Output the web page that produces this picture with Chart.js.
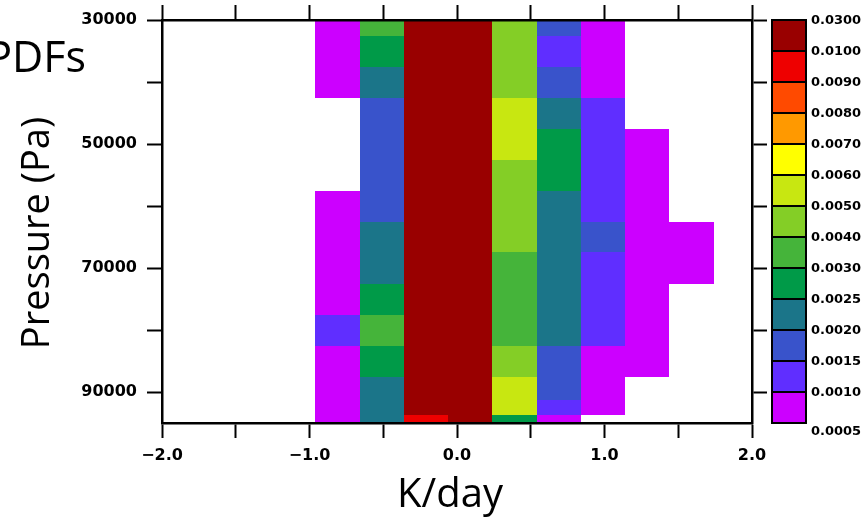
<!DOCTYPE html>
<html><head><meta charset="utf-8">
<script src="https://cdn.jsdelivr.net/npm/chart.js@4"></script>
<style>html,body{margin:0;padding:0;background:#fff;overflow:hidden}canvas{display:block}</style>
</head><body>
<canvas id="c" width="866" height="519"></canvas>
<script>
// ---- data ----
const heatingRateCenters = [-0.81, -0.51, -0.21, 0.09, 0.39, 0.69, 0.99, 1.29, 1.59];
const binWidth = 0.3;
const pressureLevels = [30000, 35000, 40000, 45000, 50000, 55000, 60000, 65000, 70000, 75000, 80000, 85000, 90000, 92500, 95000];
const pdfRows = [
  [0.0007, 0.0035, 0.0210, 0.0200, 0.0045, 0.0017, 0.0007, null, null],
  [0.0007, 0.0027, 0.0220, 0.0210, 0.0045, 0.0012, 0.0007, null, null],
  [0.0007, 0.0022, 0.0220, 0.0210, 0.0045, 0.0017, 0.0007, null, null],
  [null,   0.0017, 0.0230, 0.0220, 0.0055, 0.0022, 0.0012, null, null],
  [null,   0.0017, 0.0230, 0.0220, 0.0055, 0.0027, 0.0012, 0.0007, null],
  [null,   0.0017, 0.0230, 0.0220, 0.0045, 0.0027, 0.0012, 0.0007, null],
  [0.0007, 0.0017, 0.0220, 0.0220, 0.0045, 0.0022, 0.0012, 0.0007, null],
  [0.0007, 0.0022, 0.0220, 0.0210, 0.0045, 0.0022, 0.0017, 0.0007, 0.0007],
  [0.0007, 0.0022, 0.0210, 0.0200, 0.0035, 0.0022, 0.0012, 0.0007, 0.0007],
  [0.0007, 0.0027, 0.0200, 0.0200, 0.0035, 0.0022, 0.0012, 0.0007, null],
  [0.0012, 0.0035, 0.0190, 0.0190, 0.0035, 0.0022, 0.0012, 0.0007, null],
  [0.0007, 0.0027, 0.0180, 0.0190, 0.0045, 0.0017, 0.0007, 0.0007, null],
  [0.0007, 0.0022, 0.0160, 0.0180, 0.0055, 0.0017, 0.0007, null, null],
  [0.0007, 0.0022, 0.0130, 0.0160, 0.0055, 0.0012, 0.0007, null, null],
  [0.0007, 0.0022, 0.0095, 0.0120, 0.0027, 0.0007, null, null, null]
];
const contourLevels = [0.0005, 0.0010, 0.0015, 0.0020, 0.0025, 0.0030, 0.0040, 0.0050, 0.0060, 0.0070, 0.0080, 0.0090, 0.0100, 0.0300];
const contourLabels = ['0.0005','0.0010','0.0015','0.0020','0.0025','0.0030','0.0040','0.0050','0.0060','0.0070','0.0080','0.0090','0.0100','0.0300'];
const xTicks = [-2, -1.5, -1, -0.5, 0, 0.5, 1, 1.5, 2];
const xTickLabels = ['\u22122.0', '', '\u22121.0', '', '0.0', '', '1.0', '', '2.0'];
const yTicks = [30000, 40000, 50000, 60000, 70000, 80000, 90000];
const yTickLabels = ['30000', '', '50000', '', '70000', '', '90000'];
const xTitle = 'K/day';
const yTitle = 'Pressure (Pa)';
const cornerText = 'PDFs';

// ---- styles ----
const contourColors = ['#CC00FF', '#602EFF', '#3953CB', '#1B7589', '#009A48', '#45B43A', '#84CE26', '#C8E711', '#FFFF00', '#FF9900', '#FF4A00', '#EE0000', '#990000'];
const tickFont = { family: 'DejaVu Sans', weight: 'bold', size: 16 };
const titleFamily = "'Open Sans', 'Noto Sans', sans-serif";

function colorFor(v) {
  for (let i = contourLevels.length - 2; i >= 0; i--) {
    if (v >= contourLevels[i]) return contourColors[i];
  }
  return null;
}

const points = [];
pressureLevels.forEach((p, r) => heatingRateCenters.forEach((x, c) => {
  const v = pdfRows[r][c];
  if (v != null) points.push({ x: x, y: p, v: v, r: r });
}));

const cellPlugin = {
  id: 'cells',
  beforeDraw(chart) {
    const ctx = chart.ctx;
    ctx.save(); ctx.fillStyle = '#fff'; ctx.fillRect(0, 0, chart.width, chart.height); ctx.restore();
  },
  beforeDatasetsDraw(chart) {
    const { ctx, chartArea: a, scales } = chart;
    const xs = scales.x, ys = scales.y;
    const n = pressureLevels.length;
    ctx.save();
    ctx.beginPath(); ctx.rect(a.left, a.top, a.right - a.left, a.bottom - a.top); ctx.clip();
    for (const pt of chart.data.datasets[0].data) {
      const r = pt.r, p = pressureLevels[r];
      const pTop = r === 0 ? p - (pressureLevels[1] - p) / 2 : (pressureLevels[r - 1] + p) / 2;
      const pBot = r === n - 1 ? p + (p - pressureLevels[r - 1]) / 2 : (p + pressureLevels[r + 1]) / 2;
      const x0 = Math.round(xs.getPixelForValue(pt.x - binWidth / 2));
      const x1 = Math.round(xs.getPixelForValue(pt.x + binWidth / 2));
      const y0 = Math.round(ys.getPixelForValue(pTop));
      const y1 = Math.round(ys.getPixelForValue(pBot));
      ctx.fillStyle = colorFor(pt.v);
      ctx.fillRect(x0, y0, x1 - x0, y1 - y0);
    }
    ctx.restore();
  },
  afterDraw(chart) {
    const { ctx, chartArea: a } = chart;
    ctx.save();
    // colour bar
    const nb = contourColors.length;
    const left = a.right + 20, w = 34;
    const h = (a.bottom - a.top) / nb;
    for (let i = 0; i < nb; i++) {
      const y0 = a.bottom - (i + 1) * h;
      ctx.fillStyle = contourColors[i];
      ctx.fillRect(left, y0, w, h);
    }
    ctx.strokeStyle = '#000'; ctx.lineWidth = 2;
    for (let i = 0; i < nb; i++) {
      const y0 = a.bottom - (i + 1) * h;
      ctx.strokeRect(left, y0, w, h);
    }
    ctx.fillStyle = '#000';
    ctx.font = 'bold 13px "DejaVu Sans"';
    ctx.textAlign = 'left'; ctx.textBaseline = 'middle';
    for (let i = 0; i < contourLabels.length; i++) {
      let y = a.bottom - i * h;
      if (i === 0) y += 8;
      ctx.fillText(contourLabels[i], left + 39, y + 1);
    }
    // titles
    ctx.font = '40px ' + titleFamily;
    ctx.textAlign = 'center'; ctx.textBaseline = 'alphabetic';
    ctx.fillText(xTitle, 450, 507);
    ctx.save();
    ctx.font = '38px ' + titleFamily;
    ctx.translate(49, 233);
    ctx.rotate(-Math.PI / 2);
    ctx.fillText(yTitle, 0, 0);
    ctx.restore();
    ctx.font = '43px ' + titleFamily;
    ctx.textAlign = 'right';
    ctx.fillText(cornerText, 86, 72);
    ctx.restore();
  }
};

const axisCommon = (labels, ticksArr) => ({
  type: 'linear',
  grid: { drawOnChartArea: false, drawTicks: true, tickLength: 15, tickWidth: 2, tickColor: '#000' },
  border: { display: true, color: '#000', width: 2.5, z: 1 },
  afterBuildTicks: (s) => { s.ticks = ticksArr.map(v => ({ value: v })); },
  ticks: { autoSkip: false, maxRotation: 0, minRotation: 0, color: '#000', font: tickFont,
           callback: (v, i) => labels ? labels[i] : '' }
});

const xAxis = Object.assign(axisCommon(xTickLabels, xTicks), { position: 'bottom', min: -2, max: 2,
  afterFit: (s) => { s.height = 96; } });
xAxis.ticks.padding = 8;
const x2Axis = Object.assign(axisCommon(null, xTicks), { position: 'top', axis: 'x', min: -2, max: 2,
  afterFit: (s) => { s.height = 20; } });
const yAxis = Object.assign(axisCommon(yTickLabels, yTicks), { position: 'left', min: 30000, max: 95000, reverse: true,
  afterFit: (s) => { s.width = 162; } });
yAxis.ticks.padding = 10;
const y2Axis = Object.assign(axisCommon(null, yTicks), { position: 'right', axis: 'y', min: 30000, max: 95000, reverse: true,
  afterFit: (s) => { s.width = 114; } });

new Chart(document.getElementById('c'), {
  type: 'scatter',
  data: { datasets: [{ data: points, pointRadius: 0, pointHoverRadius: 0, xAxisID: 'x', yAxisID: 'y' }] },
  options: {
    responsive: false, animation: false, devicePixelRatio: 1,
    layout: { padding: 0 },
    plugins: { legend: { display: false }, tooltip: { enabled: false }, title: { display: false } },
    scales: { x: xAxis, x2: x2Axis, y: yAxis, y2: y2Axis }
  },
  plugins: [cellPlugin]
});
</script>
</body></html>
